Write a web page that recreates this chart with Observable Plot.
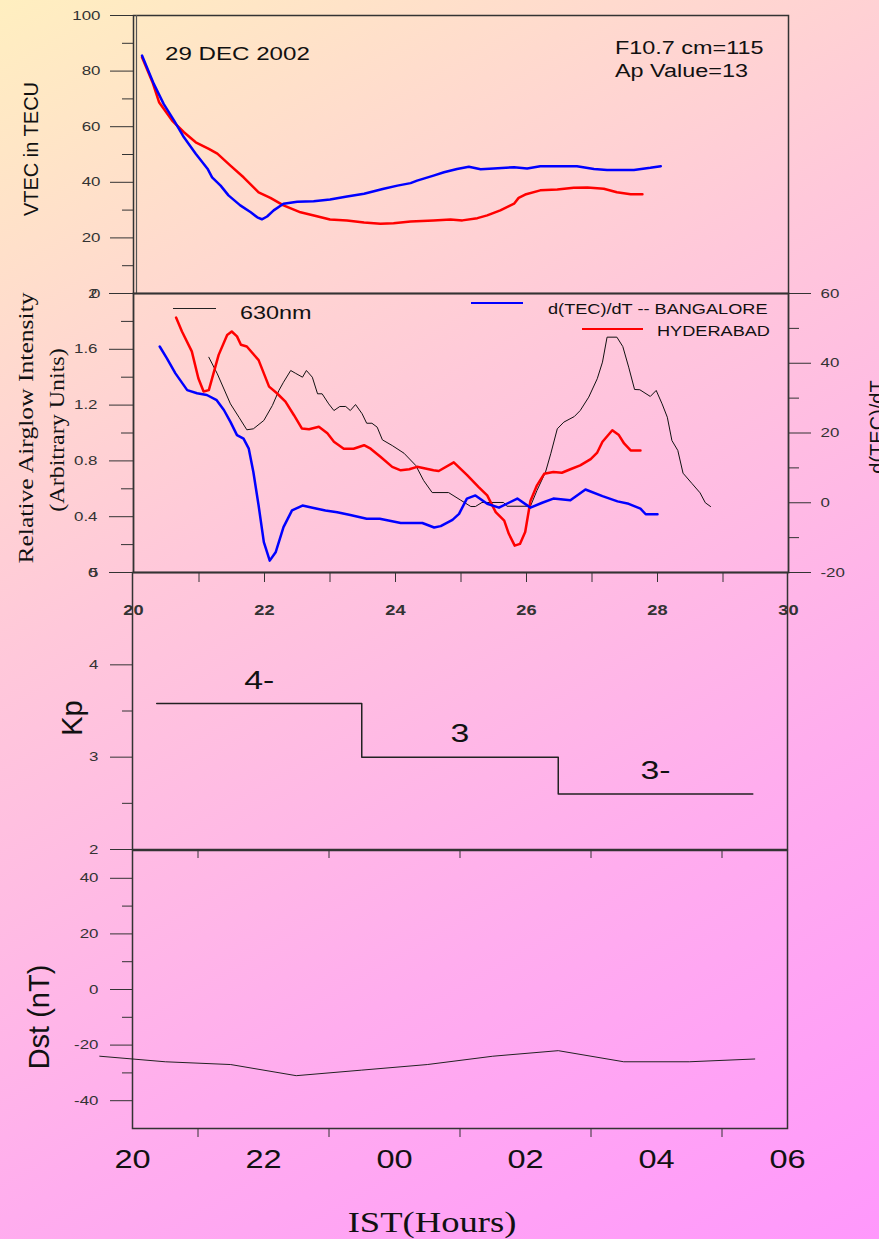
<!DOCTYPE html>
<html>
<head>
<meta charset="utf-8">
<script src="https://cdn.jsdelivr.net/npm/d3@7"></script>
<script src="https://cdn.jsdelivr.net/npm/@observablehq/plot@0.6"></script>
<style>
html, body { margin: 0; padding: 0; }
#root {
  position: relative; width: 879px; height: 1239px; overflow: hidden;
  background: linear-gradient(150deg, #FFEFC0 0%, #FFC8DA 38%, #FFADEE 70%, #FF98FC 100%);
  font-family: "Liberation Sans", Arial, sans-serif; color: #111;
}
.lbl { position: absolute; white-space: nowrap; line-height: 1; color: #111; }
.sw { position: absolute; }
</style>
</head>
<body>
<div id="root"></div>
<script>
// ---------------- DATA ----------------
// Panel 1: VTEC (TECU) vs IST hour (24+ = after midnight)
const vtecBlrHour = [20.13,20.31,20.46,20.62,20.77,20.95,21.13,21.2,21.33,21.45,21.63,21.79,21.89,21.96,22.04,22.14,22.29,22.5,22.75,23.0,23.26,23.52,23.82,24.03,24.23,24.33,24.58,24.74,24.94,25.12,25.3,25.5,25.81,26.01,26.21,26.52,26.77,27.03,27.23,27.64,27.89,28.05];
const vtecBlr     = [85.6,75.4,68.2,62.2,56.2,50.3,44.9,41.8,38.8,35.3,31.7,29.2,27.4,26.7,27.7,29.9,32.3,33.0,33.2,33.8,34.9,35.9,37.7,38.8,39.7,40.6,42.4,43.6,44.8,45.6,44.7,45.0,45.4,45.0,45.8,45.8,45.8,44.8,44.4,44.4,45.2,45.8];
const vtecHydHour = [20.13,20.29,20.39,20.59,20.77,20.95,21.15,21.28,21.48,21.68,21.91,22.09,22.29,22.55,22.8,23.0,23.26,23.52,23.77,23.97,24.23,24.58,24.84,25.02,25.25,25.4,25.6,25.81,25.88,25.98,26.21,26.47,26.72,26.93,27.18,27.38,27.59,27.77];
const vtecHyd     = [85.0,76.0,68.8,62.2,58.0,54.4,52.0,50.3,46.0,41.8,36.4,34.4,31.7,29.2,27.8,26.6,26.3,25.5,25.1,25.3,25.9,26.3,26.6,26.3,27.1,28.1,29.9,32.3,34.4,35.6,37.1,37.4,38.0,38.1,37.7,36.4,35.7,35.7];

// Panel 2: 630nm relative airglow intensity (left axis)
const glowHour = [21.15,21.28,21.48,21.61,21.73,21.83,21.99,22.12,22.22,22.29,22.4,22.47,22.58,22.64,22.73,22.81,22.88,22.98,23.06,23.15,23.24,23.31,23.39,23.49,23.56,23.64,23.72,23.8,23.95,24.13,24.31,24.43,24.56,24.81,24.99,25.15,25.22,25.32,25.65,25.7,26.06,26.16,26.29,26.37,26.47,26.57,26.73,26.82,26.95,27.08,27.16,27.23,27.38,27.47,27.56,27.65,27.73,27.89,27.98,28.07,28.15,28.22,28.31,28.39,28.53,28.65,28.73,28.81];
const glow     = [1.543,1.424,1.209,1.113,1.023,1.030,1.090,1.197,1.305,1.364,1.448,1.429,1.400,1.448,1.400,1.281,1.281,1.209,1.161,1.190,1.190,1.161,1.204,1.138,1.070,1.070,1.042,0.951,0.910,0.855,0.767,0.659,0.573,0.573,0.52,0.473,0.473,0.502,0.502,0.475,0.475,0.588,0.719,0.851,1.030,1.078,1.118,1.161,1.257,1.389,1.508,1.687,1.687,1.620,1.472,1.312,1.310,1.262,1.305,1.209,1.113,0.946,0.875,0.712,0.636,0.571,0.500,0.473];

// Panel 2: d(TEC)/dT (right axis)
const dBlrHour = [20.4,20.51,20.64,20.82,20.97,21.12,21.27,21.38,21.48,21.58,21.68,21.76,21.83,21.91,21.99,22.08,22.17,22.29,22.42,22.58,22.75,22.93,23.11,23.31,23.56,23.76,24.08,24.41,24.59,24.69,24.87,24.97,25.09,25.22,25.4,25.58,25.73,25.86,26.06,26.24,26.41,26.67,26.9,27.16,27.39,27.56,27.74,27.82,28.0];
const dBlr     = [44.8,41.4,37.1,32.3,31.4,30.9,29.4,26.6,23.2,19.4,18.4,15.5,8.8,-0.8,-11.3,-16.6,-14.2,-7.0,-2.2,-0.8,-1.5,-2.2,-2.7,-3.5,-4.6,-4.6,-5.8,-5.8,-7.1,-6.7,-4.9,-3.2,1.2,2.1,-0.3,-1.4,0,1.2,-1.4,0,1.2,0.7,3.8,1.9,0.4,-0.3,-1.7,-3.3,-3.3];
const dHydHour = [20.65,20.74,20.89,20.99,21.07,21.15,21.3,21.43,21.5,21.58,21.64,21.73,21.91,22.07,22.19,22.32,22.45,22.57,22.68,22.83,22.96,23.06,23.21,23.36,23.52,23.62,23.77,23.95,24.08,24.21,24.33,24.58,24.66,24.89,25.09,25.27,25.4,25.53,25.66,25.73,25.82,25.9,25.98,26.06,26.16,26.27,26.41,26.54,26.67,26.82,26.98,27.08,27.16,27.31,27.41,27.49,27.59,27.74];
const dHyd     = [53.1,49.1,43.4,35.7,31.9,32.3,42.4,48.1,49.1,47.7,45.3,44.8,40.9,33.3,31.4,29.0,25.1,21.3,21.1,21.8,19.9,17.5,15.5,15.5,16.5,15.5,13.2,10.3,9.3,9.6,10.3,9.3,9.1,11.6,8.0,4.5,2.1,-2.7,-5.1,-8.9,-12.3,-11.8,-8.4,0.5,5.0,8.3,8.8,8.6,9.6,10.7,12.5,14.4,17.5,20.8,19.4,17.0,15.0,15.0];

// Panel 3: Kp (3-hourly step)
const kpHour   = [20.37, 23.5, 26.5, 29.47];
const kp       = [3.58, 3.0, 2.6, 2.6];
const kpLabels = ["4-", "3", "3-"];

// Panel 4: Dst (nT), hourly
const dstHour = [19.5,20.5,21.5,22.5,23.5,24.5,25.5,26.5,27.5,28.5,29.5];
const dst     = [-24,-26,-27,-31,-29,-27,-24,-22,-26,-26,-25];

// Tick values / labels
const topTicks   = [20,22,24,26,28,30];
const istTicks   = [20,22,24,26,28,30];
const oddHours   = [21,23,25,27,29];
const allHours   = [21,22,23,24,25,26,27,28,29];

// ---------------- RENDER ----------------
const W = 879;
const root = document.getElementById("root");
const baseStyle = {background: "transparent", overflow: "visible", fontFamily: "'Liberation Sans', Arial, sans-serif", fontSize: "13px", color: "#333"};
const rows = (hs, vs) => hs.map((h, i) => ({h, v: vs[i]}));
const blank = () => "";
const plain = d => String(+(+d).toFixed(1));
const BLUE = "#0000ff", RED = "#ff0000";

function mount(svg, top) {
  svg.style.position = "absolute"; svg.style.left = "0px"; svg.style.top = top + "px";
  root.appendChild(svg);
  return svg;
}

// Panel 1: VTEC
mount(Plot.plot({
  width: W, height: 300, marginTop: 15, marginBottom: 7, marginLeft: 133, marginRight: 91,
  x: {domain: [20, 30], axis: null},
  y: {domain: [0, 100], axis: null},
  style: baseStyle,
  marks: [
    Plot.frame({stroke: "#333", strokeWidth: 1.5}),
    Plot.ruleX([20], {dx: 3, stroke: "#555", strokeWidth: 1.2}),
    Plot.axisY({ticks: d3.range(0, 101, 20), tickSize: 23, tickPadding: 10, tickFormat: plain, label: null}),
    Plot.axisY({ticks: d3.range(10, 100, 20), tickSize: 11, tickFormat: blank, label: null}),
    Plot.line(rows(vtecHydHour, vtecHyd), {x: "h", y: "v", stroke: RED, strokeWidth: 2.5}),
    Plot.line(rows(vtecBlrHour, vtecBlr), {x: "h", y: "v", stroke: BLUE, strokeWidth: 2.5})
  ]
}), 0);

// Panel 2: airglow (left axis)
mount(Plot.plot({
  width: W, height: 360, marginTop: 13, marginBottom: 68, marginLeft: 133, marginRight: 91,
  x: {domain: [20, 30], axis: null},
  y: {domain: [0, 2], axis: null},
  style: baseStyle,
  marks: [
    Plot.frame({stroke: "#333", strokeWidth: 1.8}),
    Plot.axisY({ticks: d3.range(0, 2.01, 0.4), tickSize: 24, tickPadding: 12, tickFormat: plain, label: null}),
    Plot.axisY({ticks: d3.range(0.2, 2, 0.4), tickSize: 12, tickFormat: blank, label: null}),
    Plot.axisX({ticks: topTicks, tickSize: 0, tickPadding: 33, fontSize: 14, fontWeight: "bold", tickFormat: plain, label: null}),
    Plot.axisX({ticks: allHours, tickSize: 10, tickFormat: blank, label: null}),
    Plot.line(rows(glowHour, glow), {x: "h", y: "v", stroke: "#111", strokeWidth: 1})
  ]
}), 280);

// Panel 2: d(TEC)/dT (right axis)
mount(Plot.plot({
  width: W, height: 360, marginTop: 13, marginBottom: 68, marginLeft: 133, marginRight: 91,
  x: {domain: [20, 30], axis: null},
  y: {domain: [-20, 60], axis: null},
  style: baseStyle,
  marks: [
    Plot.axisY({anchor: "right", ticks: [-20, 0, 20, 40, 60], tickSize: 22, tickPadding: 10, tickFormat: plain, label: null}),
    Plot.axisY({anchor: "right", ticks: [-10, 10, 30, 50], tickSize: 10, tickFormat: blank, label: null}),
    Plot.line(rows(dHydHour, dHyd), {x: "h", y: "v", stroke: RED, strokeWidth: 2.5}),
    Plot.line(rows(dBlrHour, dBlr), {x: "h", y: "v", stroke: BLUE, strokeWidth: 2.5})
  ]
}), 280);

// Panel 3: Kp
const kpRows = rows(kpHour, kp);
const kpText = kpLabels.map((t, i) => ({t, h: (kpHour[i] + kpHour[i + 1]) / 2, v: kp[i]}));
mount(Plot.plot({
  width: W, height: 300, marginTop: 12, marginBottom: 11, marginLeft: 132, marginRight: 92,
  x: {domain: [20, 30], axis: null},
  y: {domain: [2, 5], axis: null},
  style: baseStyle,
  marks: [
    Plot.frame({stroke: "#333", strokeWidth: 1.5}),
    Plot.axisY({ticks: [2, 3, 4, 5], tickSize: 22, tickPadding: 12, tickFormat: plain, label: null}),
    Plot.axisY({ticks: [2.5, 3.5], tickSize: 10, tickFormat: blank, label: null}),
    Plot.axisX({ticks: oddHours, tickSize: 9, tickFormat: blank, label: null}),
    Plot.line(kpRows, {x: "h", y: "v", curve: "step-after", stroke: "#222", strokeWidth: 1.5}),
    Plot.text(kpText, {x: "h", y: "v", text: "t", dy: -23, fontSize: 26, fill: "#111"})
  ]
}), 560);

// Panel 4: Dst
mount(Plot.plot({
  width: W, height: 399, marginTop: 10, marginBottom: 111, marginLeft: 132, marginRight: 92,
  x: {domain: [20, 30], axis: null},
  y: {domain: [-50, 50], axis: null},
  style: baseStyle,
  marks: [
    Plot.frame({stroke: "#333", strokeWidth: 1.5}),
    Plot.axisY({ticks: [-40, -20, 0, 20, 40], tickSize: 22, tickPadding: 12, tickFormat: plain, label: null}),
    Plot.axisY({ticks: [-30, -10, 10, 30], tickSize: 10, tickFormat: blank, label: null}),
    Plot.axisX({ticks: istTicks, tickSize: 0, tickPadding: 22, fontSize: 25, tickFormat: d => String(d % 24).padStart(2, "0"), label: null, fill: "#111"}),
    Plot.axisX({ticks: oddHours, tickSize: 9, tickFormat: blank, label: null}),
    Plot.line(rows(dstHour, dst), {x: "h", y: "v", stroke: "#222", strokeWidth: 1})
  ]
}), 840);

// widen horizontal text (the original glyphs are ~1.3x wide)
root.querySelectorAll("svg text").forEach(t => {
  const w = t.getComputedTextLength();
  if (w > 0) { t.setAttribute("textLength", (w * 1.3).toFixed(1)); t.setAttribute("lengthAdjust", "spacingAndGlyphs"); }
});

// ---------------- HTML TEXT ----------------
function label(text, o) {
  const d = document.createElement("div");
  d.className = "lbl";
  d.textContent = text;
  d.style.fontSize = o.size + "px";
  if (o.family) d.style.fontFamily = o.family;
  d.style.left = o.x + "px"; d.style.top = o.y + "px";
  const sx = o.sx || 1;
  if (o.rotate) {
    d.style.transform = `translate(-50%,-50%) rotate(-90deg) scaleX(${sx})`;
  } else if (o.center) {
    d.style.transform = `translate(-50%,-50%) scaleX(${sx})`;
  } else {
    d.style.transformOrigin = "left center";
    d.style.transform = `translateY(-50%) scaleX(${sx})`;
  }
  root.appendChild(d);
}
const SERIF = "'Liberation Serif', 'Times New Roman', serif";
label("29 DEC 2002", {x: 165, y: 53, size: 19, sx: 1.27});
label("F10.7 cm=115", {x: 615, y: 48, size: 18, sx: 1.3});
label("Ap Value=13", {x: 615, y: 71, size: 18, sx: 1.3});
label("VTEC in TECU", {x: 31, y: 149, size: 20, rotate: true});
label("Relative Airglow Intensity", {x: 26, y: 428, size: 20, family: SERIF, rotate: true, sx: 1.28});
label("(Arbitrary Units)", {x: 57, y: 430, size: 20, family: SERIF, rotate: true, sx: 1.2});
label("d(TEC)/dT", {x: 877, y: 427, size: 20, rotate: true});
label("Kp", {x: 72, y: 718, size: 29, rotate: true});
label("Dst (nT)", {x: 39, y: 1017, size: 29, rotate: true});
label("IST(Hours)", {x: 432, y: 1222, size: 30, family: SERIF, center: true, sx: 1.22});

// legend
function swatch(x1, x2, y, color, h) {
  const d = document.createElement("div");
  d.className = "sw";
  d.style.left = x1 + "px"; d.style.width = (x2 - x1) + "px";
  d.style.top = (y - h / 2) + "px"; d.style.height = h + "px";
  d.style.background = color;
  root.appendChild(d);
}
swatch(173, 216, 308, "#222", 1);
label("630nm", {x: 240, y: 313, size: 18, sx: 1.3});
swatch(471, 523, 303, BLUE, 2.5);
label("d(TEC)/dT -- BANGALORE", {x: 548, y: 308, size: 15, sx: 1.21});
swatch(582, 643, 329, RED, 2.5);
label("HYDERABAD", {x: 657, y: 330, size: 15, sx: 1.21});
</script>
</body>
</html>
